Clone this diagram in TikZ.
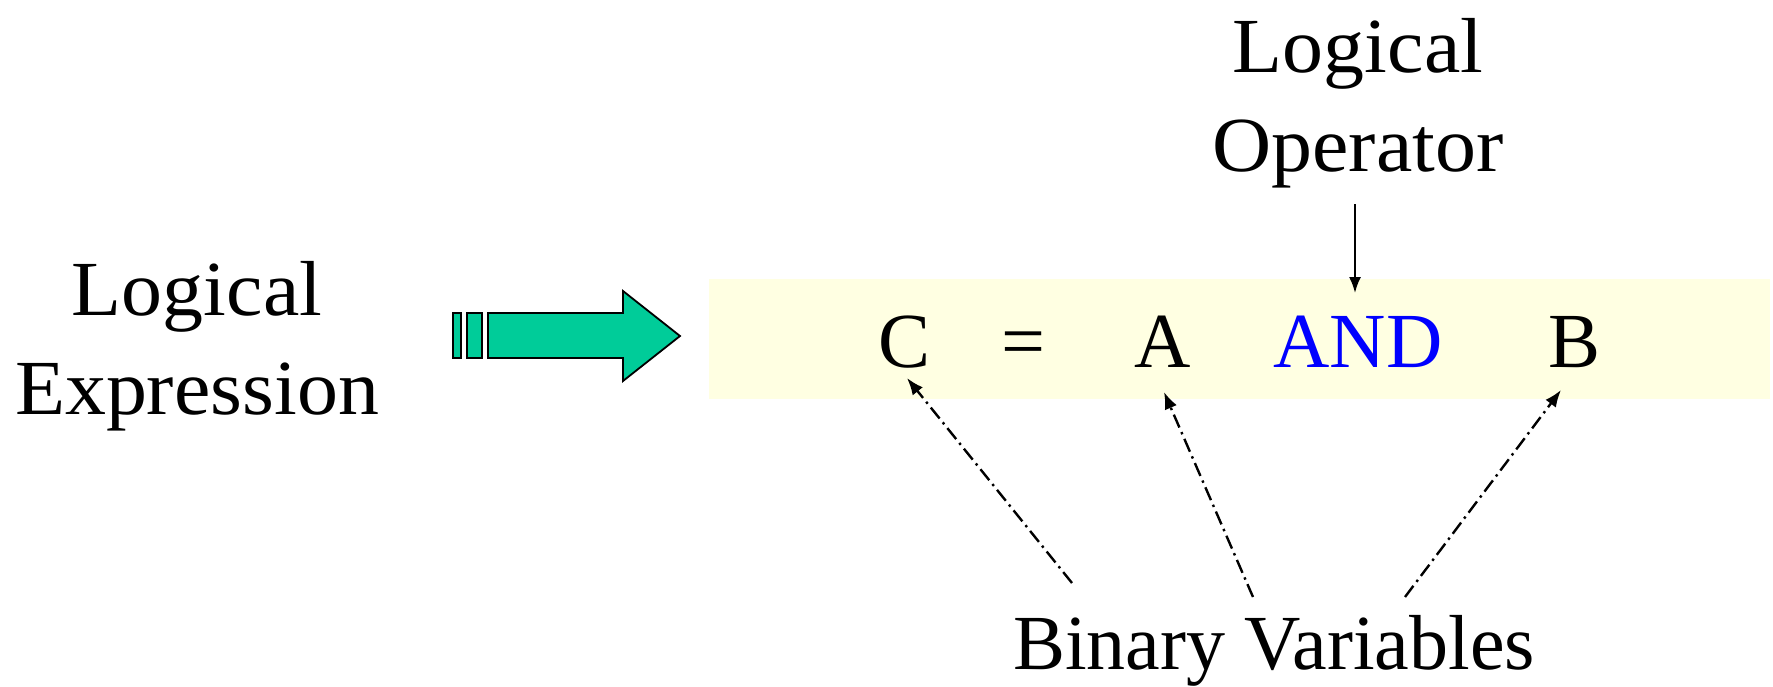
\documentclass[tikz,border=0pt]{standalone}
\usepackage{fontspec}
\setmainfont{Liberation Serif}
\usetikzlibrary{arrows.meta}
\definecolor{arrowgreen}{RGB}{0,204,153}
\definecolor{boxyellow}{RGB}{255,255,226}
\definecolor{opblue}{RGB}{0,0,255}
\tikzset{
  lbl/.style={inner sep=0pt, anchor=base, font=\fontsize{78}{94}\selectfont},
  eq/.style={inner sep=0pt, anchor=base, font=\fontsize{78}{94}\selectfont},
  dd/.style={line width=2.4pt, dash pattern=on 14pt off 5pt on 2.4pt off 5pt, -{Latex[length=17pt,width=13pt]}},
  solidarr/.style={line width=2pt, -{Latex[length=16pt,width=12pt]}},
  greenpart/.style={fill=arrowgreen, draw=black, line width=1.8pt, line join=miter}
}
\begin{document}
\begin{tikzpicture}[x=1pt,y=-1pt]
\useasboundingbox (0,0) rectangle (1773,686);
% yellow band
\fill[boxyellow] (709,279) rectangle (1770,399);
% left label
\node[lbl, xscale=1.05] (le1) at (197,315) {Logical};
\node[lbl, xscale=1.05] (le2) at (197,414) {Expression};
% green block arrow
\draw[greenpart] (453,313) rectangle (461,358);
\draw[greenpart] (467,313) rectangle (482,358);
\draw[greenpart] (488,313) -- (623,313) -- (623,291) -- (680,336) -- (623,381) -- (623,358) -- (488,358) -- cycle;
% equation
\node[eq] (C) at (905,367) {C};
\node[eq] (eqs) at (1023,367) {=};
\node[eq] (A) at (1163,367) {A};
\node[eq, text=opblue] (AND) at (1358,367) {AND};
\node[eq] (B) at (1574,367) {B};
% top label
\node[lbl, xscale=1.05] (lo1) at (1358,72) {Logical};
\node[lbl, xscale=1.05] (lo2) at (1358,171) {Operator};
\coordinate (opstart) at (1355,204);
\coordinate (opend) at (1355,293);
\draw[solidarr] (opstart) -- (opend);
% bottom label
\node[lbl] (bv) at (1274,669) {Binary Variables};
\coordinate (s1) at (1072,583);
\coordinate (s2) at (1253,597);
\coordinate (s3) at (1405,597);
\coordinate (e1) at (907,378);
\coordinate (e2) at (1164,392);
\coordinate (e3) at (1561,390);
\draw[dd] (s1) -- (e1);
\draw[dd] (s2) -- (e2);
\draw[dd] (s3) -- (e3);
\end{tikzpicture}
\end{document}
